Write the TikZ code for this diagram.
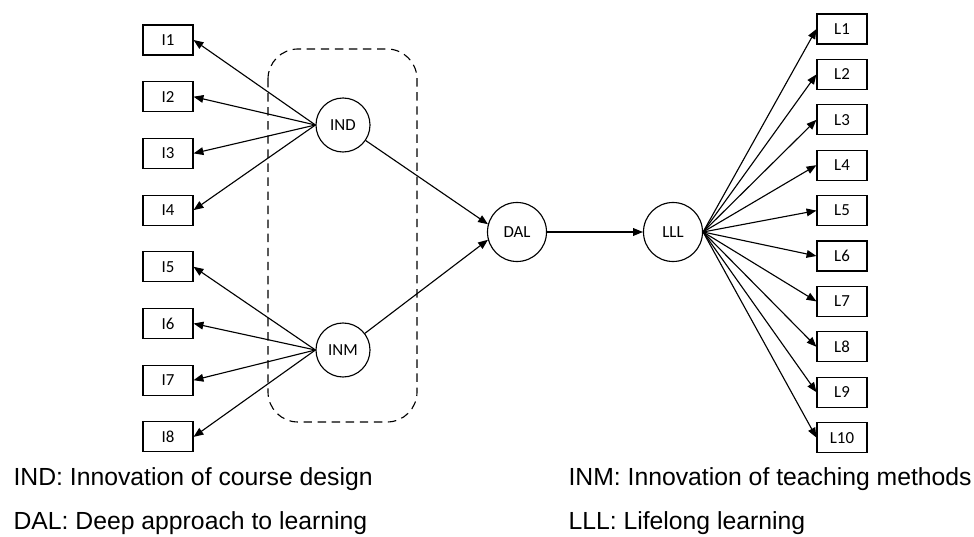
\documentclass[tikz,border=0pt]{standalone}
\usepackage{fontspec}
\setmainfont{Carlito}
\newfontfamily\legendfont{Liberation Sans}
\usetikzlibrary{arrows.meta, positioning}

\begin{document}
\begin{tikzpicture}[x=0.025cm, y=-0.025cm, thick, >={Triangle[length=7pt, width=5.5pt]},
    item/.style={rectangle, draw, minimum width=1.25cm, minimum height=0.75cm, font=\fontsize{12}{14}\selectfont},
    factor/.style={circle, draw, inner sep=0pt, font=\fontsize{12}{14}\selectfont},
    legend/.style={anchor=base west, inner sep=0pt, font=\legendfont\fontsize{17.6}{20}\selectfont}]
    \useasboundingbox (0,0) rectangle (974,537);

    % Latent factors
    \node (IND) [factor, minimum size=1.35cm] at (343,125) {IND};
    \node (INM) [factor, minimum size=1.35cm] at (343,350) {INM};
    \node (DAL) [factor, minimum size=1.475cm] at (517,232) {DAL};
    \node (LLL) [factor, minimum size=1.475cm] at (673,232) {LLL};

    % Grouping of the two innovation factors
    \draw[dashed, dash pattern=on 6pt off 4pt, line width=0.8pt, rounded corners=0.75cm] (268,49) rectangle (417,422);

    % Indicators
    \foreach \i in {1,...,8}
        \node (I\i) [item] at (168,{40+56.7*(\i-1)}) {I\i};
    \foreach \i in {1,...,10}
        \node (L\i) [item] at (842,{29+45.4*(\i-1)}) {L\i};

    % Paths
    \foreach \i in {1,...,4}
        \draw[->] (IND.west) -- (I\i.east);
    \foreach \i in {5,...,8}
        \draw[->] (INM.west) -- (I\i.east);
    \draw[->] (IND) -- (DAL.165);
    \draw[->] (INM) -- (DAL.195);
    \draw[->] (DAL) -- (LLL);
    \foreach \i in {1,...,10}
        \draw[->] (LLL.east) -- (L\i.west);

    % Legend
    \node (legIND) [legend] at (13,485) {IND: Innovation of course design};
    \node (legDAL) [legend] at (13,529) {DAL: Deep approach to learning};
    \node (legINM) [legend] at (568,485) {INM: Innovation of teaching methods};
    \node (legLLL) [legend] at (568,529) {LLL: Lifelong learning};
\end{tikzpicture}
\end{document}
